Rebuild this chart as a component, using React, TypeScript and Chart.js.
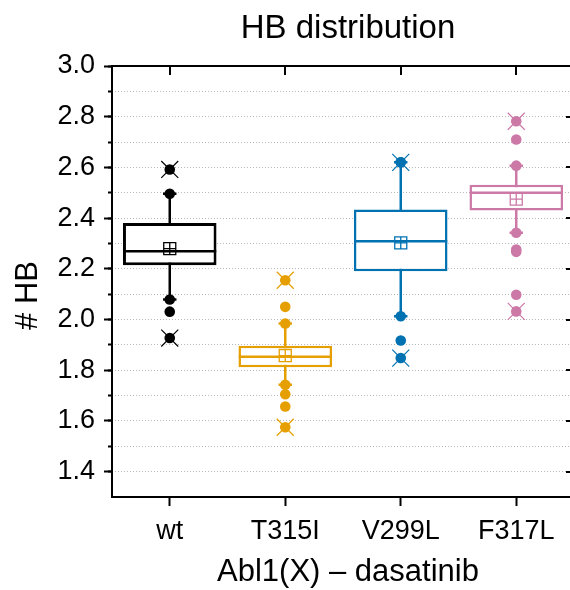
import { useEffect, useRef } from 'react';
import { Chart, registerables } from 'chart.js';

Chart.register(...registerables);

const FONT = '"Liberation Sans", Arial, sans-serif';

// Mutant groups and their colours
const categories = ['wt', 'T315I', 'V299L', 'F317L'];
const seriesColors = ['#000000', '#E69F00', '#0072B2', '#CC79A7'];

// Box statistics for each group
const q1 = [2.214, 1.812, 2.19, 2.43];
const median = [2.269, 1.853, 2.309, 2.5];
const q3 = [2.381, 1.897, 2.434, 2.532];
const mean = [2.28, 1.858, 2.302, 2.475];
const whiskerLow = [2.079, 1.743, 2.013, 2.342];
const whiskerHigh = [2.496, 1.984, 2.62, 2.607];
const minimum = [1.927, 1.575, 1.848, 2.032];
const maximum = [2.592, 2.155, 2.62, 2.782];

// Points lying outside the whiskers
const outliers = [
  [2.592, 2.031, 1.927],
  [2.155, 2.05, 1.705, 1.657, 1.575],
  [2.62, 1.917, 1.848],
  [2.782, 2.71, 2.276, 2.267, 2.098, 2.032],
];

const chartTitle = 'HB distribution';
const xTitle = 'Abl1(X) \u2013 dasatinib';
const yTitle = '# HB';
const yMin = 1.3;
const yMax = 3.0;
const yMajorStep = 0.2;
const yMinorStep = 0.1;

type Pt = { x: string; y: number };

function groupPoints(values: number[][]) {
  const data: Pt[] = [];
  const colors: string[] = [];
  values.forEach((list, i) => {
    list.forEach((v) => {
      data.push({ x: categories[i], y: v });
      colors.push(seriesColors[i]);
    });
  });
  return { data, colors };
}

const framePlugin = {
  id: 'frame',
  afterDraw(chart: any) {
    const { ctx, chartArea: a } = chart;
    const xs = chart.scales.x;
    const ys = chart.scales.y;
    const ym = chart.scales.yMinor;
    ctx.save();
    ctx.strokeStyle = '#000';
    ctx.lineWidth = 2;
    ctx.beginPath();
    // top and right frame lines
    ctx.moveTo(a.left - 1, a.top);
    ctx.lineTo(a.right + 1, a.top);
    ctx.moveTo(a.right, a.top);
    ctx.lineTo(a.right, a.bottom + 1);
    // inward ticks mirrored on top and right
    xs.ticks.forEach((_: any, i: number) => {
      const px = Math.round(xs.getPixelForTick(i));
      ctx.moveTo(px, a.top);
      ctx.lineTo(px, a.top + 9);
    });
    ys.ticks.forEach((t: any) => {
      const py = Math.round(ys.getPixelForValue(t.value));
      ctx.moveTo(a.right, py);
      ctx.lineTo(a.right - 8, py);
    });
    ym.ticks.forEach((t: any) => {
      const py = Math.round(ym.getPixelForValue(t.value));
      ctx.moveTo(a.right, py);
      ctx.lineTo(a.right - 4, py);
    });
    ctx.stroke();

    // titles
    const cx = (a.left + a.right) / 2 + 5;
    ctx.fillStyle = '#000';
    ctx.textAlign = 'center';
    ctx.textBaseline = 'alphabetic';
    ctx.font = `33px ${FONT}`;
    ctx.fillText(chartTitle, cx, 38);
    ctx.font = `31px ${FONT}`;
    ctx.fillText(xTitle, cx, 581);
    ctx.translate(37, (a.top + a.bottom) / 2 + 14);
    ctx.rotate(-Math.PI / 2);
    ctx.fillText(yTitle, 0, 0);
    ctx.restore();
  },
};

export default function App() {
  const canvasRef = useRef<HTMLCanvasElement | null>(null);

  useEffect(() => {
    if (!canvasRef.current) return;

    const dots = groupPoints(categories.map((_, i) => [whiskerHigh[i], whiskerLow[i], ...outliers[i]]));
    const extremes = groupPoints(categories.map((_, i) => [minimum[i], maximum[i]]));
    const caps = groupPoints(categories.map((_, i) => [whiskerLow[i], whiskerHigh[i]]));

    const chart = new Chart(canvasRef.current, {
      type: 'bar',
      data: {
        labels: categories,
        datasets: [
          {
            type: 'bar',
            label: 'whiskers',
            data: whiskerLow.map((lo, i) => [lo, whiskerHigh[i]]),
            backgroundColor: seriesColors,
            borderWidth: 0,
            barThickness: 2.5,
            inflateAmount: 0,
            grouped: false,
            order: 8,
          },
          {
            type: 'bar',
            label: 'boxes',
            data: q1.map((lo, i) => [lo, q3[i]]),
            backgroundColor: '#ffffff',
            borderColor: seriesColors,
            borderWidth: [3, 2.5, 2.5, 2.5],
            borderSkipped: false,
            inflateAmount: 0,
            barPercentage: 0.81,
            categoryPercentage: 1,
            grouped: false,
            order: 7,
          },
          {
            type: 'line',
            label: 'median',
            data: median,
            showLine: false,
            pointStyle: 'line',
            pointRadius: 46.5,
            pointBorderWidth: 2.5,
            pointBorderColor: seriesColors,
            order: 6,
          },
          {
            type: 'line',
            label: 'caps',
            data: caps.data,
            showLine: false,
            pointStyle: 'line',
            pointRadius: 6.7,
            pointBorderWidth: 2.5,
            pointBorderColor: caps.colors,
            order: 5,
          },
          {
            type: 'line',
            label: 'points',
            data: dots.data,
            showLine: false,
            pointStyle: 'circle',
            pointRadius: 5.3,
            pointBorderWidth: 0,
            pointBackgroundColor: dots.colors,
            pointBorderColor: dots.colors,
            order: 4,
          },
          {
            type: 'line',
            label: 'mean box',
            data: mean,
            showLine: false,
            pointStyle: 'rect',
            pointRadius: 8.5,
            pointBorderWidth: 1.3,
            pointBackgroundColor: 'rgba(0,0,0,0)',
            pointBorderColor: seriesColors,
            order: 3,
          },
          {
            type: 'line',
            label: 'mean cross',
            data: mean,
            showLine: false,
            pointStyle: 'cross',
            pointRadius: 6,
            pointBorderWidth: 1.3,
            pointBorderColor: seriesColors,
            order: 2,
          },
          {
            type: 'line',
            label: 'min / max',
            data: extremes.data,
            showLine: false,
            pointStyle: 'crossRot',
            pointRadius: 12,
            pointBorderWidth: 1.2,
            pointBorderColor: extremes.colors,
            order: 1,
          },
        ],
      } as any,
      options: {
        animation: false,
        responsive: false,
        events: [],
        layout: { padding: { left: 0, top: 66, right: 6, bottom: 0 }, autoPadding: false },
        plugins: {
          legend: { display: false },
          tooltip: { enabled: false },
          title: { display: false },
        },
        scales: {
          x: {
            type: 'category',
            position: 'bottom',
            offset: true,
            afterFit: (s: any) => {
              s.height = 93;
            },
            grid: {
              display: true,
              offset: false,
              drawOnChartArea: false,
              drawTicks: true,
              tickLength: 9,
              tickColor: '#000',
              tickWidth: 2,
              color: '#000',
            },
            border: { display: true, color: '#000', width: 2 },
            ticks: {
              color: '#000',
              font: { family: FONT, size: 27 },
              padding: 9,
              maxRotation: 0,
              autoSkip: false,
            },
          },
          y: {
            type: 'linear',
            position: 'left',
            weight: 1,
            min: yMin,
            max: yMax,
            afterFit: (s: any) => {
              s.width = 112;
            },
            grid: {
              display: true,
              drawOnChartArea: false,
              drawTicks: true,
              tickLength: 8,
              tickColor: '#000',
              tickWidth: 2,
            },
            border: { display: true, color: '#000', width: 2 },
            ticks: {
              stepSize: yMajorStep,
              includeBounds: false,
              color: '#000',
              font: { family: FONT, size: 27 },
              padding: 9,
              callback: (v: any) => Number(v).toFixed(1),
            },
          },
          yMinor: {
            type: 'linear',
            position: 'left',
            weight: 0,
            min: yMin,
            max: yMax,
            afterFit: (s: any) => {
              s.width = 0;
            },
            afterBuildTicks: (s: any) => {
              s.ticks = s.ticks.filter((t: any) => t.value > yMin + yMinorStep / 2);
            },
            grid: {
              display: true,
              drawOnChartArea: true,
              drawTicks: true,
              tickLength: 4,
              tickColor: '#000',
              tickWidth: 2,
              color: 'rgba(0,0,0,0.28)',
              lineWidth: 1,
            },
            border: { display: false, dash: [1, 2] },
            ticks: { stepSize: yMinorStep, display: false, includeBounds: false },
          },
        },
      } as any,
      plugins: [framePlugin],
    });

    return () => chart.destroy();
  }, []);

  return (
    <div
      style={{
        position: 'fixed',
        left: 0,
        top: 0,
        width: 570,
        height: 590,
        overflow: 'hidden',
        background: '#ffffff',
      }}
    >
      <canvas ref={canvasRef} width={580} height={590} style={{ display: 'block', width: 580, height: 590 }} />
    </div>
  );
}
